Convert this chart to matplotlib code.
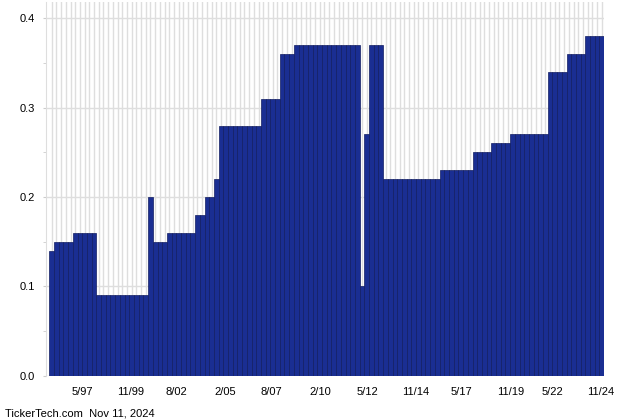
import numpy as np
import matplotlib
matplotlib.use("Agg")
import matplotlib.pyplot as plt
from matplotlib.ticker import MultipleLocator

plt.rcParams['font.family'] = ['Liberation Sans', 'DejaVu Sans']

#==================data==================
# quarterly dividend, as (value, number of quarters at that value)
steps = [(0.14, 1), (0.15, 4), (0.16, 5), (0.09, 11), (0.20, 1), (0.15, 3),
         (0.16, 6), (0.18, 2), (0.20, 2), (0.22, 1), (0.28, 9), (0.31, 4),
         (0.36, 3), (0.37, 14), (0.10, 1), (0.27, 1), (0.37, 3), (0.22, 12),
         (0.23, 7), (0.25, 4), (0.26, 4), (0.27, 8), (0.34, 4), (0.36, 4),
         (0.38, 4)]
tick_labels = ["5/97", "11/99", "8/02", "2/05", "8/07", "2/10", "5/12",
               "11/14", "5/17", "11/19", "5/22", "11/24"]
tick_bar = [7.0, 17.2, 27.1, 37.4, 47.3, 57.6, 67.6, 78.0, 87.7, 98.1, 107.0, 117.3]
footer = "TickerTech.com  Nov 11, 2024"

values = np.concatenate([[v] * n for v, n in steps])
idx = np.arange(len(values))

#==================plot==================
fig = plt.figure(figsize=(6.4, 4.2), dpi=100)
ax = fig.add_axes([0.072, 0.105, 0.872, 0.890])

ax.bar(idx, values, width=1.0, color="#1a2e92", edgecolor="#111d62", linewidth=0.5, zorder=3)

ax.set_xlim(-1.2, len(values) - 0.5)
ax.set_ylim(0, 0.418)

# vertical grid at every bar, horizontal grid at 0.1
ax.set_xticks(idx, minor=True)
ax.set_xticks(np.array(tick_bar) - 0.5)
ax.set_xticklabels(tick_labels, fontsize=8)
ax.grid(True, which="minor", axis="x", color="#dedede", linewidth=1.0, zorder=0)
ax.yaxis.set_major_locator(MultipleLocator(0.1))
ax.yaxis.set_minor_locator(MultipleLocator(0.05))
ax.grid(True, which="major", axis="y", color="#dedede", linewidth=1.0, zorder=0)
ax.set_yticklabels([f"{v:.1f}" for v in ax.get_yticks()], fontsize=8)

ax.tick_params(axis="x", which="both", length=0, pad=8)
ax.tick_params(axis="y", which="both", length=2, color="#cccccc", pad=6)

for s in ["top", "right", "bottom"]:
    ax.spines[s].set_visible(False)
ax.spines["left"].set_color("#dedede")

fig.text(0.008, 1 - 413 / 420, footer, fontsize=8, va="center", ha="left")

fig.savefig("out.png", dpi=100)
